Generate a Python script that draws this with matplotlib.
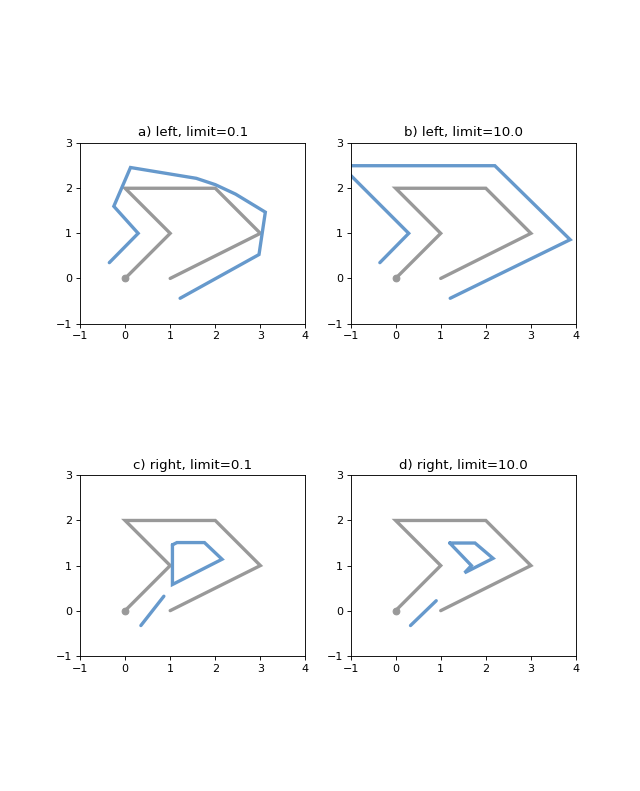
import matplotlib.pyplot as plt

BLUE = '#6699cc'
GRAY = '#999999'

# original line (grey)
line_x = [0, 1, 0, 2, 3, 1]
line_y = [0, 1, 2, 2, 1, 0]

# offset curves, one list of parts per panel
titles = ["a) left, limit=0.1", "b) left, limit=10.0",
          "c) right, limit=0.1", "d) right, limit=10.0"]

left_01 = [
    ([-0.35, 0.29, -0.25, 0.12, 1.58, 2.0, 2.45, 3.11, 2.97, 1.22],
     [0.35, 1.0, 1.60, 2.46, 2.22, 2.08, 1.87, 1.47, 0.53, -0.44]),
]
left_10 = [
    ([-0.35, 0.29, -1.21, 2.2, 3.87, 1.21],
     [0.35, 1.0, 2.5, 2.5, 0.86, -0.44]),
]
right_01 = [
    ([0.35, 0.86], [-0.33, 0.32]),
    ([1.05, 1.15, 1.76, 2.15, 1.05, 1.05],
     [1.46, 1.51, 1.51, 1.14, 0.58, 1.46]),
]
right_10 = [
    ([0.33, 0.90], [-0.33, 0.22]),
    ([1.2, 1.76, 2.16, 1.53, 1.68, 1.2],
     [1.5, 1.5, 1.16, 0.84, 1.0, 1.5]),
]
offsets = [left_01, left_10, right_01, right_10]


def plot_line(ax, x, y, color):
    ax.plot(x, y, color=color, linewidth=3, solid_capstyle='round',
            solid_joinstyle='miter', zorder=1)


# 80 dpi so fonts and lines come out at the reference's scale
fig = plt.figure(figsize=(8, 9.8875), dpi=80)

for i in range(4):
    ax = fig.add_subplot(2, 2, i + 1)
    plot_line(ax, line_x, line_y, GRAY)
    ax.plot(line_x[0], line_y[0], 'o', color=GRAY, zorder=1)
    for px, py in offsets[i]:
        plot_line(ax, px, py, BLUE)
    ax.set_title(titles[i])
    ax.set_xlim(-1, 4)
    ax.set_xticks(range(-1, 5))
    ax.set_ylim(-1, 3)
    ax.set_yticks(range(-1, 4))
    ax.set_aspect('equal')

fig.savefig('out.png', dpi=80)
